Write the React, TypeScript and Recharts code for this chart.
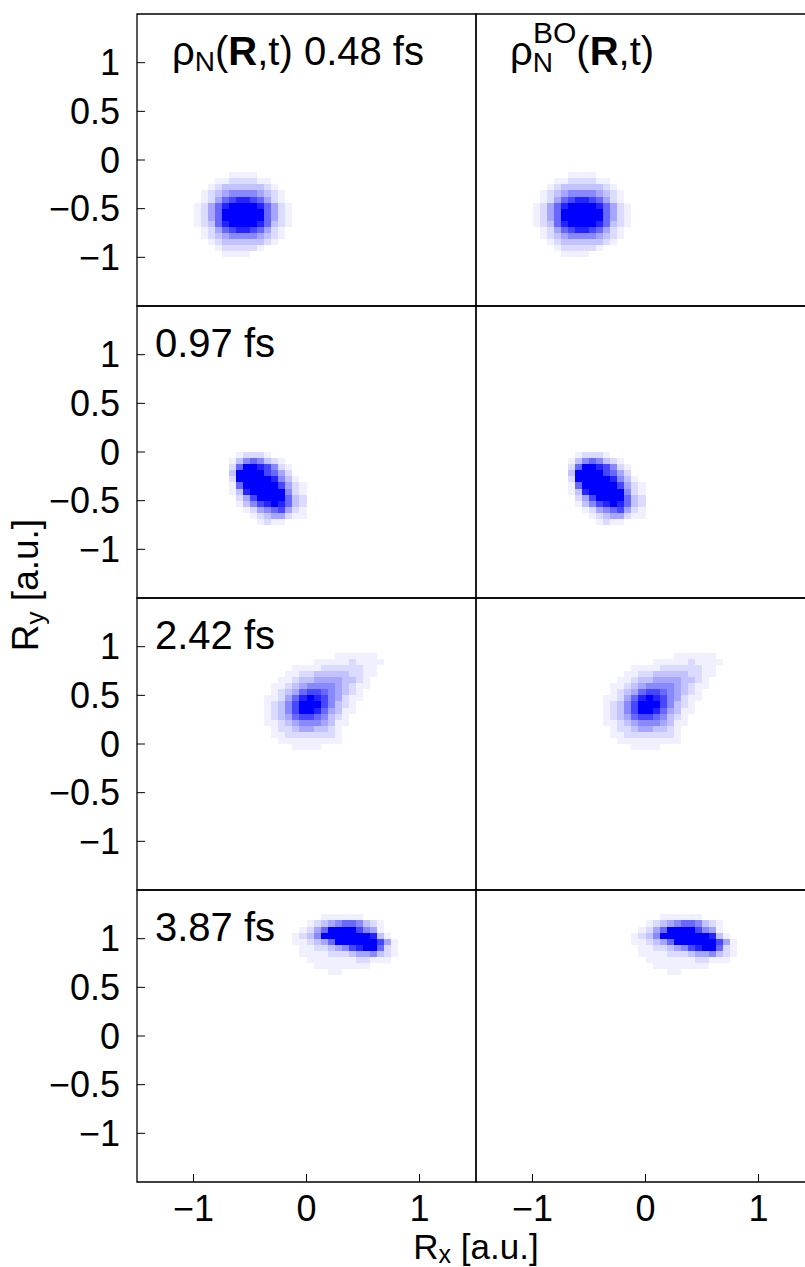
import React from 'react';
import { ScatterChart, Scatter, XAxis, YAxis, ReferenceArea } from 'recharts';

const FONT = '"Liberation Sans", Arial, Helvetica, sans-serif';

// axis setup (atomic units)
const axisMin = -1.5;
const axisMax = 1.5;
const xTicks = [-1, 0, 1];
const yTicks = [-1, -0.5, 0, 0.5, 1];
const gridStep = 0.0625; // 48 grid cells per axis

const snapshotTimes = ['0.48 fs', '0.97 fs', '2.42 fs', '3.87 fs'];

// Nuclear density on the simulation grid, levels 0..9 (9 = saturated).
// Each block starts at [column, row] counted from the upper-left grid corner.
const origin048 = [8, 26];
const density048 = [
  '00000111100000',
  '00011222211000',
  '00123333332100',
  '01234555543210',
  '01246788764210',
  '12468999986421',
  '12469999996421',
  '12469999996421',
  '12368999986321',
  '01246788764210',
  '01234555543210',
  '00123333332100',
  '00012222210000',
  '00001111000000',
];

const origin097 = [12, 24];
const density097 = [
  '001222100000',
  '013565321000',
  '026998752100',
  '039999764200',
  '029999985310',
  '016999997421',
  '013899999521',
  '002479999632',
  '001357898632',
  '000124567421',
  '000012344211',
  '000001211000',
];

const origin242 = [17, 9];
const density242 = [
  '000000000001111110',
  '000000001111121111',
  '000001111222222110',
  '000011223333322110',
  '000112334444332100',
  '001123455554321100',
  '001234677654321000',
  '011246898754211000',
  '012357999753210000',
  '012357998643110000',
  '012346776532100000',
  '011234555431100000',
  '001223443321000000',
  '001122222221000000',
  '000111111111000000',
  '000001111000000000',
];

const origin387 = [21, 4];
const density387 = [
  '00000111111000000',
  '00012345665321000',
  '00124699997541000',
  '01235999999983100',
  '01123469999997410',
  '00112234578996210',
  '00111122234453210',
  '00011111112211100',
  '00001111111100000',
  '00000011000000000',
];

const snapshots = [
  { rows: density048, origin: origin048 },
  { rows: density097, origin: origin097 },
  { rows: density242, origin: origin242 },
  { rows: density387, origin: origin387 },
];

type Cell = { x: number; y: number; level: number };

function toCells(rows: string[], origin: number[]): Cell[] {
  const cells: Cell[] = [];
  rows.forEach((row, k) => {
    row.split('').forEach((ch, i) => {
      const level = Number(ch);
      if (level > 0) {
        cells.push({
          x: axisMin + (origin[0] + i + 0.5) * gridStep,
          y: axisMax - (origin[1] + k + 0.5) * gridStep,
          level,
        });
      }
    });
  });
  return cells;
}

// white-to-blue colour scale
const shade = (level: number) => {
  const c = Math.round(255 * (1 - Math.pow(level / 9, 1.3)));
  return `rgb(${c},${c},255)`;
};

const fmt = (v: number) => (v < 0 ? `\u2212${Math.abs(v)}` : `${v}`);

// panel layout
const PLOT_X0 = 137;
const PLOT_Y0 = 14;
const PLOT_W = 339;
const PLOT_H = 292;
const Y_AXIS_W = 120;
const X_AXIS_H = 70;
const PAD = 2;
const CELL_W = (PLOT_W * gridStep) / (axisMax - axisMin);
const CELL_H = (PLOT_H * gridStep) / (axisMax - axisMin);

const renderCell = (p: any) => (
  <rect
    x={p.cx - CELL_W / 2}
    y={p.cy - CELL_H / 2}
    width={CELL_W}
    height={CELL_H}
    fill={shade(p.payload.level)}
    shapeRendering="crispEdges"
  />
);

const tickStyle = { fill: '#000', fontSize: 36, fontFamily: FONT };

function Panel({ row, col, cells }: { row: number; col: number; cells: Cell[] }) {
  const showX = row === 3;
  const showY = col === 0;
  const width = PLOT_W + (showY ? Y_AXIS_W : 0) + 2 * PAD;
  const height = PLOT_H + (showX ? X_AXIS_H : 0) + 2 * PAD;
  const left = PLOT_X0 + col * PLOT_W - (showY ? Y_AXIS_W : 0) - PAD;
  const top = PLOT_Y0 + row * PLOT_H - PAD;
  return (
    <div style={{ position: 'absolute', left, top }}>
      <ScatterChart width={width} height={height} margin={{ top: PAD, right: PAD, bottom: PAD, left: PAD }}>
        <XAxis
          type="number"
          dataKey="x"
          domain={[axisMin, axisMax]}
          ticks={xTicks}
          interval={0}
          hide={!showX}
          height={X_AXIS_H}
          axisLine={false}
          tickSize={-8}
          tickMargin={21}
          tickLine={{ stroke: '#000' }}
          tick={tickStyle}
          tickFormatter={fmt}
          allowDataOverflow
        />
        <YAxis
          type="number"
          dataKey="y"
          domain={[axisMin, axisMax]}
          ticks={yTicks}
          interval={0}
          hide={!showY}
          width={Y_AXIS_W}
          axisLine={false}
          tickSize={-8}
          tickMargin={25}
          tickLine={{ stroke: '#000' }}
          tick={tickStyle}
          tickFormatter={fmt}
          allowDataOverflow
        />
        <Scatter data={cells} isAnimationActive={false} shape={renderCell} />
        <ReferenceArea
          x1={axisMin}
          x2={axisMax}
          y1={axisMin}
          y2={axisMax}
          fill="none"
          stroke="#000"
          strokeWidth={1.3}
          ifOverflow="visible"
        />
      </ScatterChart>
    </div>
  );
}

export default function App() {
  const cellSets = snapshots.map((s) => toCells(s.rows, s.origin));
  return (
    <div
      style={{
        position: 'absolute',
        left: 0,
        top: 0,
        width: 805,
        height: 1267,
        overflow: 'hidden',
        background: '#fff',
        fontFamily: FONT,
      }}
    >
      {cellSets.map((cells, r) =>
        [0, 1].map((c) => <Panel key={`${r}-${c}`} row={r} col={c} cells={cells} />)
      )}
      <svg
        width={805}
        height={1267}
        style={{ position: 'absolute', left: 0, top: 0, pointerEvents: 'none' }}
        fontFamily={FONT}
        fill="#000"
      >
        <text x={172} y={65} fontSize={40}>
          ρ<tspan fontSize={28} dy={6}>N</tspan>
          <tspan dy={-6}>(</tspan>
          <tspan fontWeight={700}>R</tspan>,t) {snapshotTimes[0]}
        </text>
        <text x={510} y={65} fontSize={40}>
          ρ<tspan fontSize={28} dy={7}>N</tspan>
          <tspan fontSize={30} dx={-20} dy={-29}>BO</tspan>
          <tspan dy={22}>(</tspan>
          <tspan fontWeight={700}>R</tspan>,t)
        </text>
        {snapshotTimes.slice(1).map((t, i) => (
          <text key={t} x={155} y={PLOT_Y0 + (i + 1) * PLOT_H + 51} fontSize={40}>
            {t}
          </text>
        ))}
        <text x={476} y={1259} fontSize={35} textAnchor="middle">
          R<tspan fontSize={25} dy={4}>x</tspan>
          <tspan dy={-4}> [a.u.]</tspan>
        </text>
        <text transform="translate(38,585) rotate(-90)" fontSize={37} textAnchor="middle">
          R<tspan fontSize={26} dy={6}>y</tspan>
          <tspan dy={-6}> [a.u.]</tspan>
        </text>
      </svg>
    </div>
  );
}
